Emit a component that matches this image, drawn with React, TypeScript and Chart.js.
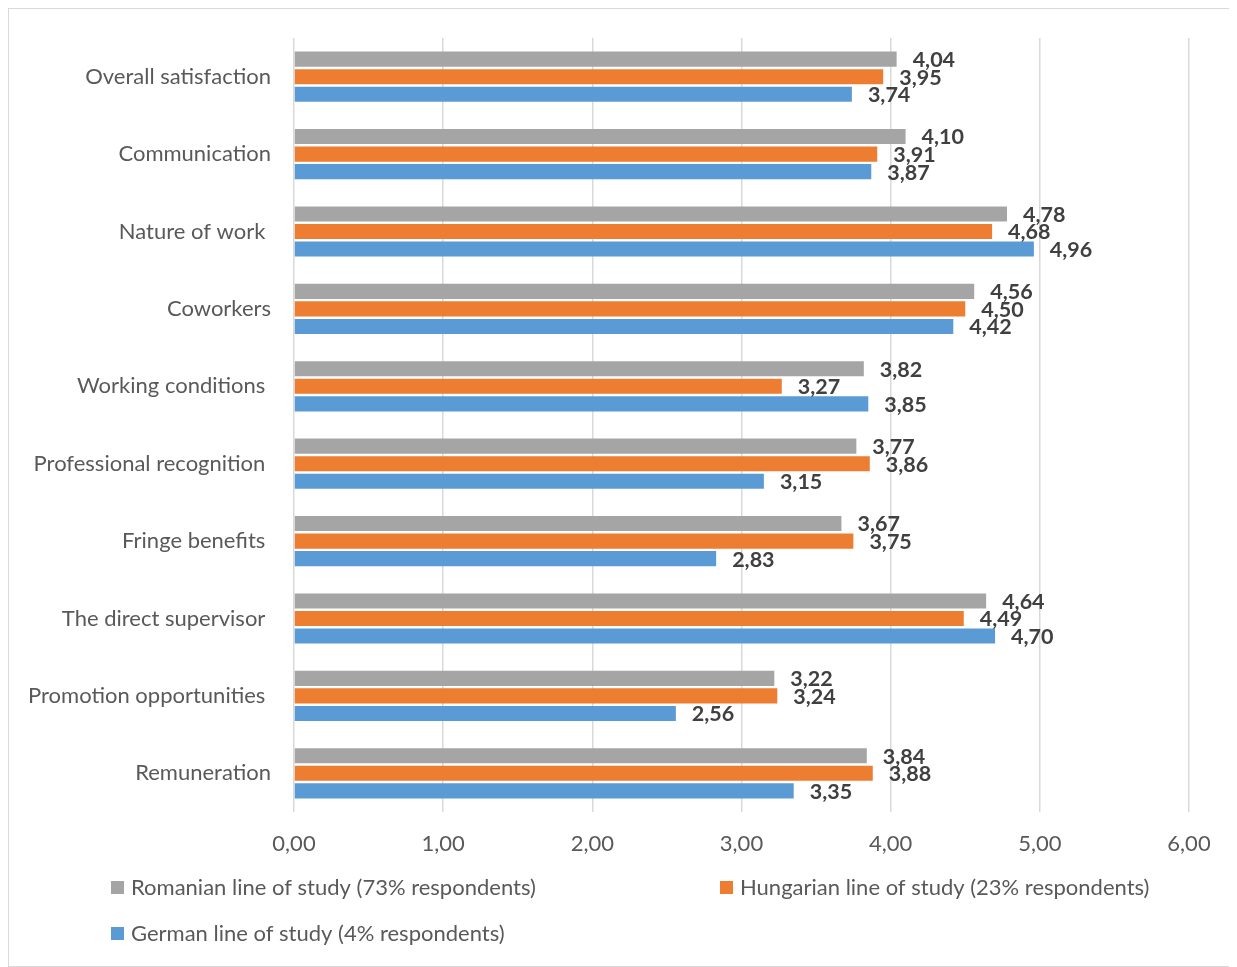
import React, { useEffect, useRef } from "react";
import { Chart, registerables } from "chart.js";

Chart.register(...registerables);

const categories = [
  "Overall satisfaction",
  "Communication",
  "Nature of work ",
  "Coworkers",
  "Working conditions ",
  "Professional recognition ",
  "Fringe benefits ",
  "The direct supervisor ",
  "Promotion opportunities ",
  "Remuneration",
];

const romanian = [4.04, 4.1, 4.78, 4.56, 3.82, 3.77, 3.67, 4.64, 3.22, 3.84];
const hungarian = [3.95, 3.91, 4.68, 4.5, 3.27, 3.86, 3.75, 4.49, 3.24, 3.88];
const german = [3.74, 3.87, 4.96, 4.42, 3.85, 3.15, 2.83, 4.7, 2.56, 3.35];

const seriesNames = [
  "Romanian line of study (73% respondents)",
  "Hungarian line of study (23% respondents)",
  "German line of study (4% respondents)",
];
const seriesColors = ["#A5A5A5", "#ED7D31", "#5B9BD5"];

const FONT = "Lato, 'Open Sans', sans-serif";

const fmt = (v: number) => v.toFixed(2).replace(".", ",");

const valueLabels = {
  id: "valueLabels",
  afterDatasetsDraw(chart: any) {
    const ctx = chart.ctx;
    ctx.save();
    ctx.font = `bold 21.5px ${FONT}`;
    ctx.fillStyle = "#404040";
    ctx.textAlign = "left";
    ctx.textBaseline = "middle";
    chart.data.datasets.forEach((ds: any, di: number) => {
      const meta = chart.getDatasetMeta(di);
      meta.data.forEach((el: any, i: number) => {
        ctx.fillText(fmt(ds.data[i]), el.x + 16, el.y + 1);
      });
    });
    ctx.restore();
  },
};

const customLegend = {
  id: "customLegend",
  afterDraw(chart: any) {
    const ctx = chart.ctx;
    const b = chart.chartArea.bottom;
    const items = [
      { x: 102, y: b + 76 },
      { x: 711, y: b + 76 },
      { x: 102, y: b + 122 },
    ];
    ctx.save();
    ctx.font = `22px ${FONT}`;
    ctx.textBaseline = "middle";
    ctx.textAlign = "left";
    items.forEach((it, i) => {
      ctx.fillStyle = seriesColors[i];
      ctx.fillRect(it.x, it.y - 7, 13, 13);
      ctx.fillStyle = "#595959";
      ctx.fillText(seriesNames[i], it.x + 20, it.y);
    });
    ctx.restore();
  },
};

export default function App() {
  const ref = useRef<HTMLCanvasElement>(null);
  useEffect(() => {
    if (!ref.current) return;
    const chart = new Chart(ref.current, {
      type: "bar",
      data: {
        labels: categories,
        datasets: [
          { label: seriesNames[0], data: romanian, backgroundColor: seriesColors[0] },
          { label: seriesNames[1], data: hungarian, backgroundColor: seriesColors[1] },
          { label: seriesNames[2], data: german, backgroundColor: seriesColors[2] },
        ],
      },
      options: {
        indexAxis: "y",
        animation: false,
        responsive: false,
        maintainAspectRatio: false,
        datasets: {
          bar: { categoryPercentage: 0.68, barPercentage: 0.86 },
        },
        layout: { padding: { left: 10, right: 47, top: 29, bottom: 100 } },
        plugins: {
          legend: { display: false },
          tooltip: { enabled: false },
        },
        scales: {
          x: {
            min: 0,
            max: 6,
            ticks: {
              stepSize: 1,
              color: "#595959",
              font: { family: FONT, size: 22 },
              padding: 19,
              callback: (v: any) => fmt(Number(v)),
            },
            grid: { color: "#D9D9D9", lineWidth: 1.5, drawTicks: false },
            border: { display: false },
            afterFit: (s: any) => {
              s.height = 54;
              s.paddingLeft = 0;
              s.paddingRight = 0;
            },
          },
          y: {
            ticks: {
              color: "#595959",
              font: { family: FONT, size: 22 },
              padding: 23,
            },
            grid: { display: false, drawTicks: false },
            border: { display: false },
            afterFit: (s: any) => {
              s.width = 275;
              s.paddingTop = 0;
              s.paddingBottom = 0;
            },
          },
        },
      },
      plugins: [valueLabels, customLegend],
    } as any);
    return () => chart.destroy();
  }, []);
  return (
    <div
      style={{
        width: 1229,
        height: 959,
        boxSizing: "border-box",
        border: "1px solid #D9D9D9",
        background: "#fff",
      }}
    >
      <canvas ref={ref} width={1227} height={957} style={{ display: "block" }} />
    </div>
  );
}
